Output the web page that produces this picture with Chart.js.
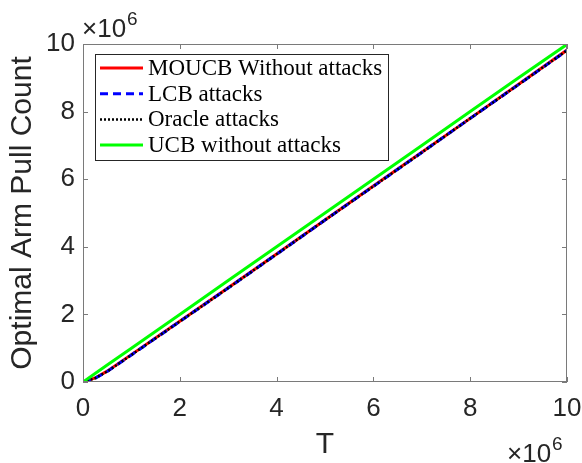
<!DOCTYPE html>
<html>
<head>
<meta charset="utf-8">
<script src="https://cdn.jsdelivr.net/npm/chart.js@4.4.1/dist/chart.umd.min.js"></script>
<style>
  html, body { margin: 0; padding: 0; background: #fff; }
  #wrap { width: 582px; height: 463px; }
</style>
</head>
<body>
<div id="wrap"><canvas id="myChart" width="582" height="463"></canvas></div>
<script>
// T values, in units of 10^6
let T = [0, 0.25, 0.5, 1, 2, 3, 4, 5, 6, 7, 8, 9, 10];

// optimal arm pull counts, in units of 10^6
let moucb  = [0, 0.12, 0.32, 0.81, 1.8, 2.79, 3.79, 4.79, 5.8, 6.8, 7.8, 8.81, 9.82];
let lcb    = [0, 0.11, 0.31, 0.8, 1.79, 2.78, 3.78, 4.79, 5.79, 6.79, 7.8, 8.8, 9.81];
let oracle = [0, 0.11, 0.31, 0.8, 1.79, 2.78, 3.78, 4.79, 5.79, 6.79, 7.8, 8.8, 9.81];
let ucb    = [0, 0.25, 0.5, 1, 2, 3, 4, 5, 6, 7, 8, 9, 9.99];

let xTicks = [0, 2, 4, 6, 8, 10];
let yTicks = [0, 2, 4, 6, 8, 10];

let labels = ['MOUCB Without attacks', 'LCB attacks', 'Oracle attacks', 'UCB without attacks'];

function pts(ys) {
    return T.map(function (t, i) { return {x: t, y: ys[i]}; });
}

let axisColor = '#7a7a7a';
let textColor = '#262626';
let sans = '"Liberation Sans", Arial, Helvetica, sans-serif';
let serif = '"Liberation Serif", "Times New Roman", serif';

// MATLAB style box with inward ticks, exponent labels and legend
let matlabBox = {
    id: 'matlabBox',
    afterDatasetsDraw: function (chart) {
        let ctx = chart.ctx;
        let a = chart.chartArea;
        let xs = chart.scales.x, ys = chart.scales.y;
        ctx.save();
        ctx.strokeStyle = axisColor;
        ctx.lineWidth = 1;
        ctx.strokeRect(a.left + 0.5, a.top + 0.5, a.right - a.left - 1, a.bottom - a.top - 1);
        ctx.beginPath();
        xTicks.forEach(function (v) {
            let px = Math.round(xs.getPixelForValue(v)) + 0.5;
            ctx.moveTo(px, a.bottom); ctx.lineTo(px, a.bottom - 5);
            ctx.moveTo(px, a.top); ctx.lineTo(px, a.top + 5);
        });
        yTicks.forEach(function (v) {
            let py = Math.round(ys.getPixelForValue(v)) + 0.5;
            ctx.moveTo(a.left, py); ctx.lineTo(a.left + 5, py);
            ctx.moveTo(a.right, py); ctx.lineTo(a.right - 5, py);
        });
        ctx.stroke();

        // x10^6 labels
        ctx.fillStyle = textColor;
        ctx.textBaseline = 'alphabetic';
        ctx.textAlign = 'left';
        function expo(x, y) {
            ctx.font = '26px ' + sans;
            ctx.fillText('\u00d710', x, y);
            let w = ctx.measureText('\u00d710').width;
            ctx.font = '19px ' + sans;
            ctx.fillText('6', x + w + 1, y - 12);
        }
        expo(82, 37);
        expo(507, 462);

        // legend
        let lx = 95, ly = 54, lw = 293, lh = 106;
        ctx.fillStyle = '#fff';
        ctx.fillRect(lx, ly, lw, lh);
        ctx.strokeStyle = '#262626';
        ctx.lineWidth = 1;
        ctx.strokeRect(lx + 0.5, ly + 0.5, lw, lh);
        ctx.font = '23px ' + serif;
        ctx.textBaseline = 'middle';
        chart.data.datasets.forEach(function (ds, i) {
            let cy = 68 + i * 25.7;
            ctx.strokeStyle = ds.borderColor;
            ctx.lineWidth = ds.borderWidth;
            ctx.setLineDash(ds.borderDash || []);
            ctx.beginPath();
            ctx.moveTo(100, cy); ctx.lineTo(143, cy);
            ctx.stroke();
            ctx.setLineDash([]);
            ctx.fillStyle = '#000';
            ctx.fillText(ds.label, 148, cy + 1);
        });
        ctx.restore();
    }
};

let ctx = document.getElementById('myChart').getContext('2d');
let myChart = new Chart(ctx, {
    type: 'line',
    data: {
        datasets: [
            {label: labels[0], data: pts(moucb), borderColor: '#ff0000', borderWidth: 3, order: 4},
            {label: labels[1], data: pts(lcb), borderColor: '#0000ff', borderWidth: 3, borderDash: [8, 5], order: 3},
            {label: labels[2], data: pts(oracle), borderColor: '#000000', borderWidth: 2.5, borderDash: [2, 2], order: 2},
            {label: labels[3], data: pts(ucb), borderColor: '#00ff00', borderWidth: 3, order: 1}
        ]
    },
    options: {
        responsive: false,
        animation: false,
        events: [],
        elements: {
            point: {radius: 0},
            line: {tension: 0, fill: false}
        },
        layout: {padding: {left: 0, right: 15, top: 44, bottom: 0}},
        plugins: {
            legend: {display: false},
            tooltip: {enabled: false}
        },
        scales: {
            x: {
                type: 'linear',
                min: 0, max: 10,
                border: {display: false},
                grid: {display: false, drawTicks: false},
                afterBuildTicks: function (s) { s.ticks = xTicks.map(function (v) { return {value: v}; }); },
                afterFit: function (s) {
                    s.height = 81;
                    s.paddingLeft = 0;
                    s.paddingRight = 0;
                },
                ticks: {
                    color: textColor,
                    font: {family: sans, size: 26},
                    padding: 11,
                    maxRotation: 0,
                    autoSkip: false
                },
                title: {
                    display: true,
                    text: 'T',
                    color: textColor,
                    font: {family: sans, size: 30, lineHeight: 1.2},
                    padding: {top: 0, bottom: 0}
                }
            },
            y: {
                type: 'linear',
                min: 0, max: 10,
                border: {display: false},
                grid: {display: false, drawTicks: false},
                afterBuildTicks: function (s) { s.ticks = yTicks.map(function (v) { return {value: v}; }); },
                afterFit: function (s) {
                    s.width = 83;
                    s.paddingTop = 0;
                    s.paddingBottom = 0;
                },
                ticks: {
                    color: textColor,
                    font: {family: sans, size: 26},
                    padding: 8,
                    autoSkip: false
                },
                title: {
                    display: true,
                    text: 'Optimal Arm Pull Count',
                    color: textColor,
                    font: {family: sans, size: 30, lineHeight: 1.2},
                    padding: {top: 5, bottom: 0}
                }
            }
        }
    },
    plugins: [matlabBox]
});
</script>
</body>
</html>
